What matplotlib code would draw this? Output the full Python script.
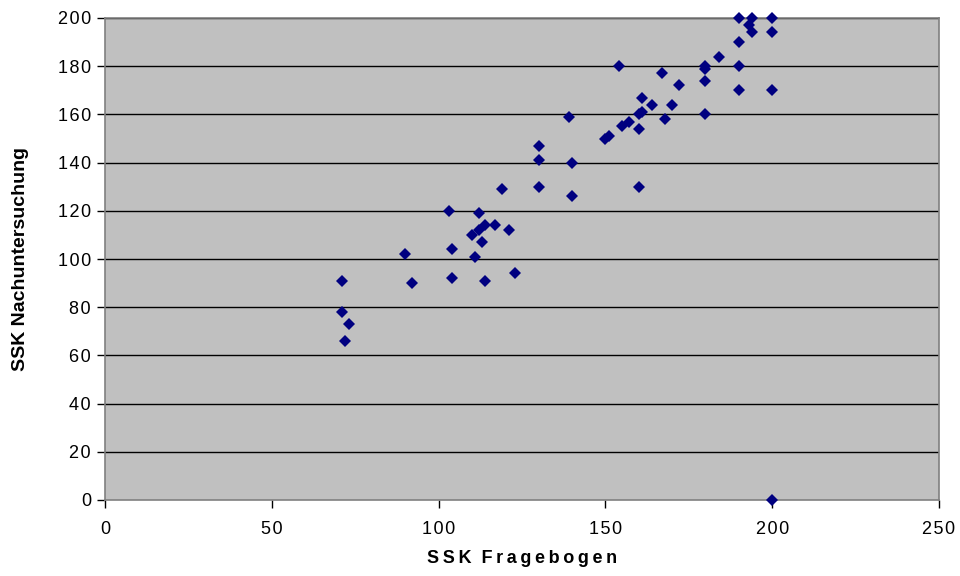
import matplotlib
matplotlib.use("Agg")
import matplotlib.pyplot as plt
from matplotlib.ticker import FuncFormatter

plt.rcParams['font.family'] = ['Liberation Sans', 'DejaVu Sans']

# SSK scores: questionnaire (x) vs. follow-up examination (y)
ssk_fragebogen = [71, 71, 72, 73, 90, 92, 103, 104, 104, 110, 111, 112, 112, 113,
                  114, 114, 117, 119, 121, 123, 130, 130, 130, 139, 140, 140,
                  150, 151, 154, 155, 157, 160, 160, 160, 161, 161, 164, 167,
                  168, 170, 172, 180, 180, 180, 180, 184, 190, 190, 190, 190,
                  193, 194, 194, 200, 200, 200, 200]
ssk_nachuntersuchung = [91, 78, 66, 73, 102, 90, 120, 104, 92, 110, 101, 119, 112, 107,
                        114, 91, 114, 129, 112, 94, 147, 141, 130, 159, 140, 126,
                        150, 151, 180, 155, 157, 160, 154, 130, 167, 161, 164, 177,
                        158, 164, 172, 180, 179, 174, 160, 184, 200, 190, 180, 170,
                        197, 200, 194, 200, 194, 170, 0]

x_ticks = [0, 50, 100, 150, 200, 250]
y_ticks = [0, 20, 40, 60, 80, 100, 120, 140, 160, 180, 200]

HAIR = '\u200a'
THIN = '\u2009'


def spaced(value, _pos):
    # loosen the digit spacing of tick labels
    return HAIR.join(str(int(value)))


fig = plt.figure(figsize=(9.6, 5.76), dpi=100)
ax = fig.add_axes([105 / 960, 1 - 500 / 576, 834 / 960, 482 / 576])
ax.set_facecolor('#C0C0C0')

ax.set_xlim(0, 250)
ax.set_ylim(0, 200)
ax.set_xticks(x_ticks)
ax.set_yticks(y_ticks)
ax.xaxis.set_major_formatter(FuncFormatter(spaced))
ax.yaxis.set_major_formatter(FuncFormatter(spaced))

for yv in y_ticks[1:]:
    ax.axhline(yv, color='black', linewidth=1.0, zorder=1)

ax.plot(ssk_fragebogen, ssk_nachuntersuchung, linestyle='none', marker='D',
        markersize=5.8, color='#000080', markeredgewidth=0, zorder=3, clip_on=False)

for side in ('left', 'bottom', 'top', 'right'):
    ax.spines[side].set_color('#808080')
    ax.spines[side].set_linewidth(1.2)

ax.tick_params(axis='both', direction='out', length=6, width=1, color='black',
               labelsize=13, colors='black')
ax.tick_params(axis='x', pad=9)
ax.tick_params(axis='y', pad=4)

ax.set_xlabel(THIN.join('SSK') + '  ' + THIN.join('Fragebogen'), fontsize=13,
              fontweight='bold', labelpad=9)
ax.set_ylabel('SSK Nachuntersuchung', fontsize=14, fontweight='bold')
ax.yaxis.set_label_coords(-76 / 834, 0.5)

fig.savefig('out.png', dpi=100, facecolor='white')
